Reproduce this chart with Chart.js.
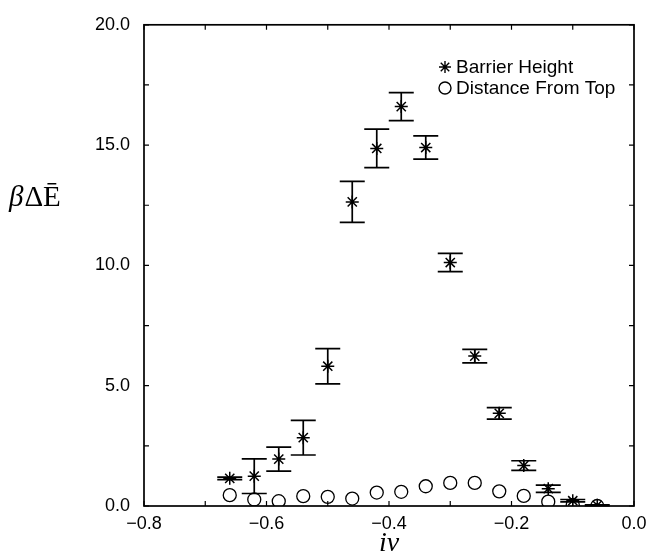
<!DOCTYPE html>
<html><head><meta charset="utf-8">
<script src="https://cdn.jsdelivr.net/npm/chart.js@4"></script>
<style>html,body{margin:0;padding:0;background:#fff;overflow:hidden}canvas{display:block}</style>
</head><body>
<canvas id="c" width="663" height="554"></canvas>
<script>
// ---- data ----
const ivValues        = [-0.66,-0.62,-0.58,-0.54,-0.50,-0.46,-0.42,-0.38,-0.34,-0.30,-0.26,-0.22,-0.18,-0.14,-0.10,-0.06];
const barrierHeight   = [1.15, 1.24, 1.95, 2.84, 5.81, 12.64, 14.86, 16.60, 14.90, 10.12, 6.23, 3.85, 1.68, 0.72, 0.22, 0.03];
const barrierError    = [0.05, 0.72, 0.50, 0.72, 0.73, 0.85, 0.80, 0.58, 0.48, 0.38, 0.28, 0.24, 0.20, 0.15, 0.05, 0.02];
const distanceFromTop = [0.45, 0.27, 0.20, 0.41, 0.38, 0.31, 0.56, 0.59, 0.82, 0.96, 0.96, 0.61, 0.42, 0.18, 0.05, 0.00];
const xLabelValues = [-0.8, -0.6, -0.4, -0.2, 0.0];
const yLabelValues = [0, 5, 10, 15, 20];
const seriesNames = ['Barrier Height', 'Distance From Top'];
const xTitle = 'i\u03BD';
const yTitleParts = ['\u03B2', '\u0394\u0112'];

const SANS = '"Liberation Sans", Arial, sans-serif';
const SERIF = '"Liberation Serif", "Times New Roman", serif';

function fmtX(v) {
  const s = Math.abs(v).toFixed(1);
  return (v < -1e-9 ? '\u2212' : '') + s;
}

const decorPlugin = {
  id: 'decor',
  afterDatasetsDraw(chart) {
    const ctx = chart.ctx;
    const xs = chart.scales.x, ys = chart.scales.y;
    const ca = chart.chartArea;
    ctx.save();
    ctx.strokeStyle = '#000';
    // error bars
    ctx.lineWidth = 1.7;
    const cap = 12.5;
    for (let i = 0; i < ivValues.length; i++) {
      const px = xs.getPixelForValue(ivValues[i]);
      const yLo = ys.getPixelForValue(barrierHeight[i] - barrierError[i]);
      const yHi = ys.getPixelForValue(barrierHeight[i] + barrierError[i]);
      ctx.beginPath();
      ctx.moveTo(px, yLo); ctx.lineTo(px, yHi);
      ctx.moveTo(px - cap, yLo); ctx.lineTo(px + cap, yLo);
      ctx.moveTo(px - cap, yHi); ctx.lineTo(px + cap, yHi);
      ctx.stroke();
    }
    // frame
    ctx.lineWidth = 1.7;
    ctx.strokeRect(ca.left, ca.top, ca.right - ca.left, ca.bottom - ca.top);
    // inward ticks
    ctx.lineWidth = 1.2;
    const tl = 5;
    ctx.beginPath();
    xs.ticks.forEach(t => {
      const px = xs.getPixelForValue(t.value);
      ctx.moveTo(px, ca.bottom); ctx.lineTo(px, ca.bottom - tl);
      ctx.moveTo(px, ca.top); ctx.lineTo(px, ca.top + tl);
    });
    ys.ticks.forEach(t => {
      const py = ys.getPixelForValue(t.value);
      ctx.moveTo(ca.left, py); ctx.lineTo(ca.left + tl, py);
      ctx.moveTo(ca.right, py); ctx.lineTo(ca.right - tl, py);
    });
    ctx.stroke();

    // legend
    const lx = 445, ly1 = 67, ly2 = 88, r = 6;
    ctx.lineWidth = 1.4;
    ctx.beginPath();
    ctx.moveTo(lx - r, ly1); ctx.lineTo(lx + r, ly1);
    ctx.moveTo(lx, ly1 - r); ctx.lineTo(lx, ly1 + r);
    const d = r * Math.SQRT1_2;
    ctx.moveTo(lx - d, ly1 - d); ctx.lineTo(lx + d, ly1 + d);
    ctx.moveTo(lx - d, ly1 + d); ctx.lineTo(lx + d, ly1 - d);
    ctx.stroke();
    ctx.beginPath();
    ctx.arc(lx, ly2, r, 0, Math.PI * 2);
    ctx.stroke();
    ctx.fillStyle = '#000';
    ctx.font = '19px ' + SANS;
    ctx.textBaseline = 'middle';
    ctx.textAlign = 'left';
    ctx.fillText(seriesNames[0], 456, ly1 + 1);
    ctx.fillText(seriesNames[1], 456, ly2 + 1);

    // y-axis title (horizontal)
    let tx = 9;
    const ty = 198;
    ctx.font = 'italic 29px ' + SERIF;
    ctx.fillText(yTitleParts[0], tx, ty);
    tx += ctx.measureText(yTitleParts[0]).width + 1;
    ctx.font = '29px ' + SERIF;
    ctx.fillText(yTitleParts[1], tx, ty);
    ctx.restore();
  }
};

new Chart(document.getElementById('c'), {
  type: 'scatter',
  data: {
    datasets: [
      {
        label: seriesNames[1],
        data: ivValues.map((x, i) => ({ x, y: distanceFromTop[i] })),
        pointStyle: 'circle',
        pointRadius: 6.5,
        pointHoverRadius: 6.5,
        borderColor: '#000',
        backgroundColor: 'rgba(255,255,255,0)',
        borderWidth: 1.3
      },
      {
        label: seriesNames[0],
        data: ivValues.map((x, i) => ({ x, y: barrierHeight[i] })),
        pointStyle: 'star',
        pointRadius: 6.5,
        pointHoverRadius: 6.5,
        borderColor: '#000',
        backgroundColor: '#000',
        borderWidth: 1.5
      }
    ]
  },
  options: {
    responsive: false,
    maintainAspectRatio: false,
    animation: false,
    events: [],
    layout: { padding: { top: 18, right: 29, left: 0, bottom: 0 } },
    plugins: { legend: { display: false }, tooltip: { enabled: false } },
    scales: {
      x: {
        type: 'linear',
        min: -0.8, max: 0.0,
        afterFit(s) { s.height = 48; },
        grid: { display: false, drawTicks: false },
        border: { display: false },
        ticks: {
          stepSize: 0.1,
          autoSkip: false,
          maxRotation: 0,
          padding: 7,
          color: '#000',
          font: { family: SANS, size: 18 },
          callback(v) {
            return xLabelValues.some(l => Math.abs(l - v) < 1e-6) ? fmtX(v) : '';
          }
        },
        title: {
          display: true,
          text: xTitle,
          color: '#000',
          padding: 0,
          font: { family: SERIF, size: 28, style: 'italic', lineHeight: '20px' }
        }
      },
      y: {
        type: 'linear',
        min: 0, max: 20,
        afterFit(s) { s.width = 144; },
        grid: { display: false, drawTicks: false },
        border: { display: false },
        ticks: {
          stepSize: 2.5,
          autoSkip: false,
          padding: 14,
          color: '#000',
          font: { family: SANS, size: 18 },
          callback(v) {
            return yLabelValues.some(l => Math.abs(l - v) < 1e-6) ? v.toFixed(1) : '';
          }
        }
      }
    }
  },
  plugins: [decorPlugin]
});
</script>
</body></html>
